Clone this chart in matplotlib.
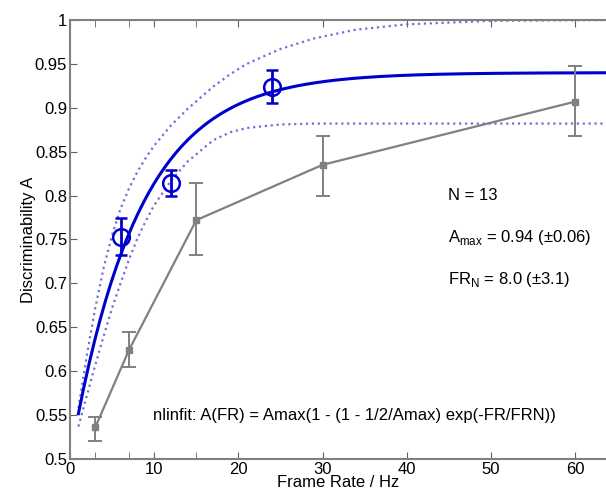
import numpy as np
import matplotlib
matplotlib.use("Agg")
import matplotlib.pyplot as plt
from matplotlib.ticker import FuncFormatter, FixedLocator

plt.rcParams['font.family'] = ['Liberation Sans', 'DejaVu Sans']
plt.rcParams['mathtext.fontset'] = 'custom'
plt.rcParams['mathtext.rm'] = 'Liberation Sans'

# measured data (blue) with error bars
fr_meas = [6, 12, 24]
a_meas = [0.753, 0.814, 0.924]
a_meas_err = [0.021, 0.015, 0.019]

# reference data (gray)
fr_ref = [3, 7, 15, 30, 60]
a_ref = [0.536, 0.624, 0.772, 0.835, 0.907]
a_ref_err_lo = [0.016, 0.019, 0.040, 0.035, 0.039]
a_ref_err_hi = [0.012, 0.021, 0.042, 0.033, 0.040]

# fit parameters
amax = 0.94
frn = 8.0

# confidence band
band_x = [1, 2, 3, 4, 5, 6, 7, 8, 9, 10, 12, 14, 17, 19, 21, 25, 29, 34, 40, 50, 65]
band_hi = [0.558, 0.618, 0.672, 0.718, 0.755, 0.785, 0.808, 0.827, 0.843, 0.857,
           0.880, 0.899, 0.924, 0.938, 0.950, 0.967, 0.979, 0.989, 0.995, 0.999, 1.0]
band_lo = [0.537, 0.572, 0.607, 0.640, 0.672, 0.700, 0.727, 0.751, 0.771, 0.789,
           0.817, 0.839, 0.863, 0.872, 0.877, 0.881, 0.882, 0.882, 0.882, 0.882, 0.882]

blue = '#0000cc'
band_col = '#7070d8'
gray = '#808080'

fig = plt.figure(figsize=(6.06, 4.95), dpi=100)
ax = fig.add_axes([0.1155, 0.0727, 0.8845, 0.887])

fr_fit = np.linspace(1, 65, 200)
a_fit = amax * (1 - (1 - 0.5 / amax) * np.exp(-fr_fit / frn))

ax.plot(band_x, band_hi, ':', color=band_col, lw=1.6)
ax.plot(band_x, band_lo, ':', color=band_col, lw=1.6)
ax.plot(fr_fit, a_fit, '-', color=blue, lw=2.2)

ax.errorbar(fr_ref, a_ref, yerr=[a_ref_err_lo, a_ref_err_hi], color=gray,
            lw=1.6, marker='s', ms=4, capsize=5, elinewidth=1.4, capthick=1.4)
ax.errorbar(fr_meas, a_meas, yerr=a_meas_err, fmt='o', color=blue, mfc='none',
            ms=12, mew=1.8, capsize=4, elinewidth=2, capthick=2)

ax.set_xlim(0, 63.66)
ax.set_ylim(0.5, 1.0)
ax.set_xticks(np.arange(0, 61, 10))
ax.xaxis.set_minor_locator(FixedLocator([3, 7, 15]))
ax.set_yticks(np.arange(0.5, 1.001, 0.05))
ax.yaxis.set_major_formatter(FuncFormatter(lambda v, p: '%g' % round(v, 3)))

ax.tick_params(which='both', direction='in', top=True, right=False,
               labelsize=12, color='#606060', pad=2)
ax.tick_params(which='major', length=5)
ax.tick_params(which='minor', length=5)
for side in ['left', 'bottom', 'top']:
    ax.spines[side].set_color('#808080')
    ax.spines[side].set_linewidth(1.5)
ax.spines['right'].set_visible(False)

ax.set_xlabel('Frame Rate / Hz', fontsize=12, labelpad=-1)
ax.set_ylabel('Discriminability A', fontsize=12, labelpad=-1)

ax.text(44.9, 0.800, 'N = 13', fontsize=12, va='center')
ax.text(44.9, 0.752, r'A$_{\mathregular{max}}$ = 0.94 ($\pm$0.06)', fontsize=12, va='center')
ax.text(44.9, 0.704, r'FR$_{\mathregular{N}}$ = 8.0 ($\pm$3.1)', fontsize=12, va='center')
ax.text(9.9, 0.550, 'nlinfit: A(FR) = Amax(1 - (1 - 1/2/Amax) exp(-FR/FRN))',
        fontsize=12, va='center')

fig.savefig('out.png', dpi=100)
